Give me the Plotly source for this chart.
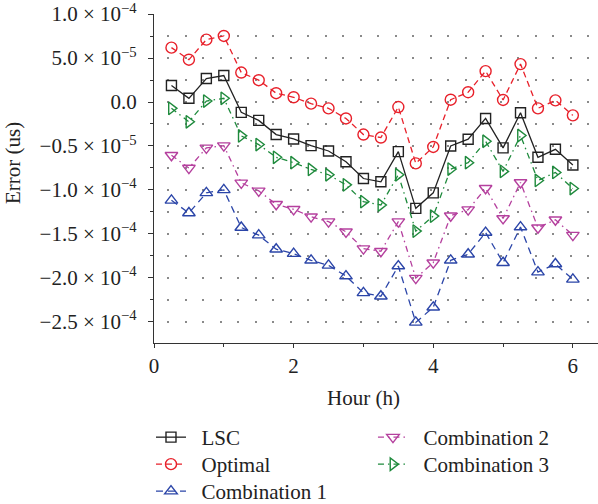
import plotly.graph_objects as go

# ---- data (values in units of 1e-5 us) ----
hours = [0.25, 0.5, 0.75, 1.0, 1.25, 1.5, 1.75, 2.0, 2.25, 2.5, 2.75, 3.0,
         3.25, 3.5, 3.75, 4.0, 4.25, 4.5, 4.75, 5.0, 5.25, 5.5, 5.75, 6.0]

lsc = [1.87, 0.42, 2.67, 3.01, -1.18, -2.09, -3.70, -4.20, -4.96, -5.57, -6.79, -8.70,
       -9.07, -5.64, -12.09, -10.33, -5.00, -4.23, -1.87, -5.22, -1.22, -6.29, -5.38, -7.17]
optimal = [6.18, 4.81, 7.09, 7.51, 3.35, 2.48, 1.00, 0.54, -0.19, -0.72, -1.87, -3.70,
           -4.04, -0.57, -6.98, -5.11, 0.26, 1.11, 3.51, 0.23, 4.31, -0.72, 0.19, -1.52]
comb1 = [-11.18, -12.62, -10.33, -9.99, -14.27, -15.14, -16.74, -17.24, -18.00, -18.57, -19.79, -21.70,
         -22.08, -18.65, -25.06, -23.34, -18.00, -17.31, -14.84, -18.27, -14.22, -19.34, -18.42, -20.17]
comb2 = [-6.06, -7.51, -5.22, -4.96, -9.19, -10.10, -11.63, -12.20, -13.04, -13.60, -14.76, -16.67,
         -16.97, -13.60, -20.02, -18.27, -12.93, -12.24, -9.81, -13.24, -9.15, -14.30, -13.39, -15.14]
comb3 = [-0.72, -2.25, 0.11, 0.42, -3.85, -4.84, -6.29, -6.90, -7.67, -8.27, -9.42, -11.33,
         -11.71, -8.27, -14.68, -12.97, -7.63, -6.90, -4.46, -7.89, -3.81, -8.92, -8.01, -9.84]
UNIT = 1e-5

y_tickvals = [1.0e-4, 5.0e-5, 0.0, -5.0e-5, -1.0e-4, -1.5e-4, -2.0e-4, -2.5e-4]
y_ticktext = ["1.0 × 10<sup>−4</sup>", "5.0 × 10<sup>−5</sup>", "0.0",
              "−0.5 × 10<sup>−5</sup>", "−1.0 × 10<sup>−4</sup>", "−1.5 × 10<sup>−4</sup>",
              "−2.0 × 10<sup>−4</sup>", "−2.5 × 10<sup>−4</sup>"]
x_tickvals = [0, 2, 4, 6]
x_ticktext = ["0", "2", "4", "6"]

FONT = "Liberation Serif"
FS = 21
PAD = "\u00a0\u00a0"

# name, values, colour, dash, symbol, size, legend id, legend x, legend y (container)
series = [
    ("LSC", lsc, "#222222", "solid", "square-open", 10, "legend", 0.2525, 0.1726),
    ("Optimal", optimal, "#E8202A", "6px,4px", "circle-open", 11, "legend2", 0.2525, 0.1190),
    ("Combination 1", comb1, "#2B45A8", "7px,5px", "triangle-up-open", 11, "legend3", 0.2525, 0.0655),
    ("Combination 2", comb2, "#B5409E", "6px,4px,1.5px,4px", "triangle-down-open", 11, "legend4", 0.6237, 0.1726),
    ("Combination 3", comb3, "#1E8A3C", "6px,4px,1.5px,4px", "triangle-right-open", 11, "legend5", 0.6237, 0.1190),
]

fig = go.Figure()
legends = {}
for name, vals, color, dash, sym, size, leg, lx, ly in series:
    fig.add_trace(go.Scatter(
        x=hours, y=[v * UNIT for v in vals], name=PAD + name, mode="lines+markers",
        line=dict(color=color, width=1.3, dash=dash),
        marker=dict(symbol=sym, size=size, color=color, line=dict(width=1.4, color=color)),
        legend=leg,
    ))
    legends[leg] = dict(x=lx, y=ly, xanchor="left", yanchor="top", xref="container", yref="container",
                        bgcolor="rgba(0,0,0,0)", font=dict(family=FONT, size=FS),
                        tracegroupgap=0, itemwidth=30)

grid_dash = "0px,13px,2px,2.5px"
fig.update_layout(
    width=598, height=504,
    margin=dict(l=154, r=0, t=14, b=161, autoexpand=False),
    paper_bgcolor="white", plot_bgcolor="white",
    font=dict(family=FONT, size=FS, color="#222222"),
    showlegend=True,
    **legends,
    xaxis=dict(range=[0, 6.36], tickvals=x_tickvals, ticktext=x_ticktext,
               showline=True, linecolor="#333333", linewidth=1.3,
               ticks="outside", ticklen=4, tickwidth=1.3, tickcolor="#333333",
               showgrid=False, zeroline=False, ticklabeloverflow="allow",
               minor=dict(dtick=1, tick0=0, ticks="outside", ticklen=3, tickcolor="#333333", showgrid=False),
               tickfont=dict(family=FONT, size=FS)),
    yaxis=dict(range=[-2.74e-4, 1.0005e-4], tickvals=y_tickvals, ticktext=y_ticktext,
               showline=True, linecolor="#333333", linewidth=1.3,
               ticks="outside", ticklen=5, tickwidth=1.3, tickcolor="#333333",
               ticklabelstandoff=7, ticklabeloverflow="allow",
               showgrid=True, gridcolor="#8a8a8a", gridwidth=1.6, griddash=grid_dash,
               zeroline=False,
               minor=dict(dtick=2.5e-5, tick0=0, ticks="outside", ticklen=3, tickcolor="#333333",
                          showgrid=True, gridcolor="#8a8a8a", gridwidth=1.6, griddash=grid_dash),
               tickfont=dict(family=FONT, size=FS)),
    annotations=[
        dict(text="Error (us)", textangle=-90, x=-0.3176, y=0.547, xref="paper", yref="paper",
             xanchor="center", yanchor="middle",
             showarrow=False, font=dict(family=FONT, size=FS)),
        dict(text="Hour (h)", x=0.472, y=-0.167, xref="paper", yref="paper",
             xanchor="center", yanchor="middle",
             showarrow=False, font=dict(family=FONT, size=FS)),
    ],
)

fig.write_html("out.html")
